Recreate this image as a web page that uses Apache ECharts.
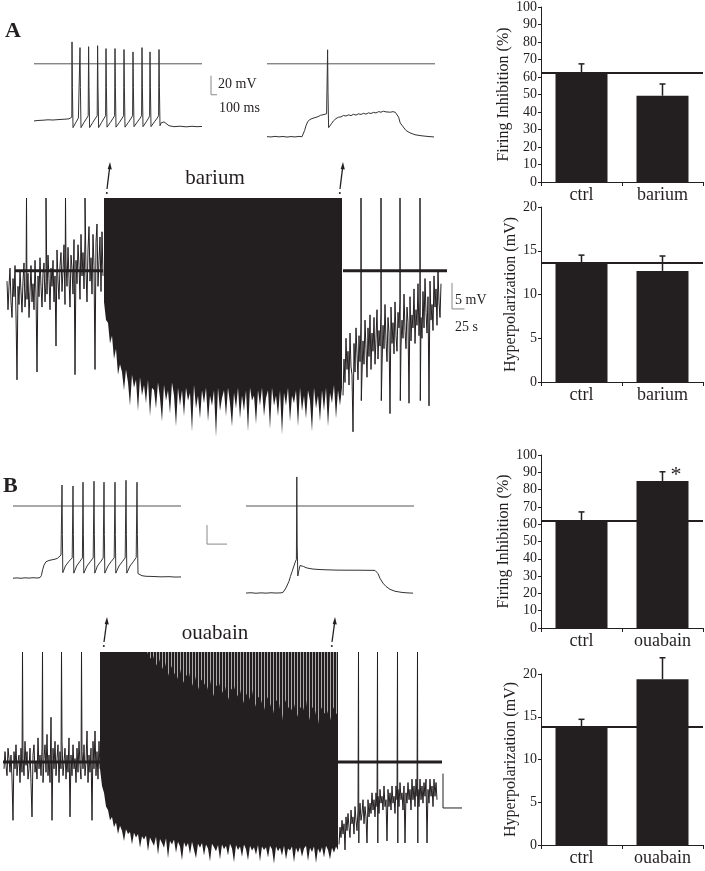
<!DOCTYPE html>
<html><head><meta charset="utf-8">
<script src="https://cdn.jsdelivr.net/npm/echarts@6/dist/echarts.min.js"></script>
<style>html,body{margin:0;padding:0;background:#fff}#c{width:705px;height:871px}</style>
</head><body><div id="c"></div>
<script>
// ---------------- DATA ----------------
// small traces: [time ms, membrane potential mV]
const traceA1 = [[0,-60],[20,-59.5],[45,-59.2],[70,-58.8],[95,-59],[120,-58.6],[150,-58.2],[175,-57.8],[189,-56],
 [190,23],[192,-25],[195,-67],[208,-62],[222,-57],[228,-55],
 [230,17],[232,-25],[235,-67],[250,-61.5],[264,-57],[271,-54.5],
 [273,18],[275,-25],[278,-67],[294,-61.5],[308,-57],[316,-54.5],
 [318,19],[320,-25],[323,-67],[338,-61.5],[351,-57],[358,-54.5],
 [360,16],[362,-25],[365,-66.5],[382,-61.5],[396,-57],[403,-54.5],
 [405,16],[407,-25],[410,-66.5],[427,-61.5],[441,-57],[448,-54.5],
 [450,15],[452,-25],[455,-66.5],[472,-61.5],[486,-57],[493,-54.5],
 [495,12.5],[497,-25],[500,-66],[517,-61],[531,-57],[538,-54.5],
 [540,17],[542,-25],[545,-66],[561,-61],[573,-57],[578,-54.5],
 [580,12.5],[582,-25],[585,-66],[602,-61],[616,-57],[623,-54.5],
 [625,15],[627,-25],[630,-65],[636,-62],[642,-60],[650,-61],[660,-63],[675,-65],[700,-66],[730,-65.5],[760,-66.2],[790,-65.6],[815,-66],[840,-65.8]];
const traceA2 = [[0,-76.5],[20,-76.8],[40,-76.2],[60,-76.7],[80,-76.3],[100,-76.9],[120,-76.4],[140,-76.8],[160,-76.2],[175,-76.6],
 [182,-75],[188,-70],[195,-65],[203,-61],[212,-58.8],[225,-57.5],[240,-56.5],[255,-55.5],[268,-54],[280,-53.5],[290,-52.5],[298,-52.5],[302,-51.5],
 [303,14.7],[305,-30],[308,-67],[314,-65.5],[322,-63],[332,-60],[345,-57.5],[358,-56],[370,-55.8],[382,-54.2],[395,-54.8],[408,-53.6],[420,-54.4],
 [432,-53],[445,-53.8],[458,-52.5],[470,-53.2],[482,-52],[495,-52.8],[508,-51.5],[520,-52.2],[532,-51],[545,-51.6],[558,-50.2],[570,-50.8],
 [582,-49.8],[595,-50.5],[605,-49.6],[618,-50.8],[630,-50.2],[642,-51],[652,-51.5],[658,-56],[666,-62],[680,-66],[695,-70],[715,-72.5],
 [740,-74.5],[770,-75.5],[800,-76.2],[835,-76.8]];
const traceB1 = [[0,-75.8],[20,-75.5],[40,-75.9],[60,-75.4],[80,-75.7],[100,-75.3],[120,-75.6],[135,-75.2],[142,-73],[148,-67],[155,-62],[165,-58.5],
 [180,-57.2],[195,-56.5],[210,-55.8],[222,-55],[232,-53.5],[240,-51.5],[244,-50],
 [245,22],[247,-30],[249,-70],[262,-63],[280,-58],[296,-54.5],
 [300,21],[302,-30],[304,-70.5],[318,-63],[335,-58],[347,-54.5],
 [350,25],[352,-30],[354,-70.5],[370,-63],[388,-58],[401,-54.5],
 [405,26],[407,-30],[409,-70.5],[422,-63],[440,-58],[451,-54.5],
 [455,25],[457,-30],[459,-70.5],[475,-63],[492,-58],[506,-54.5],
 [510,25],[512,-30],[514,-70.5],[530,-63],[548,-58],[561,-54.5],
 [565,27],[567,-30],[569,-70.5],[585,-63],[603,-58],[616,-54],
 [620,25],[622,-30],[625,-71],[632,-72.5],[645,-73.2],[665,-73.8],[700,-74],[740,-74.4],[780,-74.2],[810,-74.6],[840,-74.5]];
const traceB2 = [[0,-91.4],[25,-91.1],[50,-91.6],[75,-91.2],[100,-91.5],[125,-91.1],[150,-91.4],[175,-91.2],[186,-90.5],[200,-86],[215,-79],
 [222,-74],[230,-69],[238,-64],[246,-59],[252,-56],[254,30.5],[256,-40],[259,-73.5],[264,-68],[270,-62.5],[278,-62],[288,-63.5],[300,-64.8],
 [315,-65.5],[335,-66.2],[360,-66.6],[400,-67],[450,-67.3],[500,-67.4],[550,-67.4],[600,-67.5],[645,-67.6],[653,-68],[660,-71],[670,-76],
 [685,-81],[700,-84.5],[720,-87.5],[745,-89.5],[775,-90.6],[805,-91.2],[835,-91.5]];
const zeroLineSmall = [[0,0],[840,0]];

// long recordings: time s, potential mV relative to control level
const longA_preStart = 4, longA_preStep = 2;
const longA_pre = [-2,-7.5,-3,0.5,-6,-9,-1.5,-5,1,-8.5,
 -21,-3,-6.5,0,-4,-8,-2,1.5,-7,-3.5,
 -5.5,-0.5,-9,-4,1,-6,-2.5,-7.5,2,-4.5,
 -19.5,-1,-5,2.5,-3,-7,-0.5,1.5,-6,-2,
 -4.5,3,-1.5,-7.5,0.5,-3,2,-6,-1,-14.5,
 4,-2,-5.5,1,3.5,-4,0,5,-6.5,1.5,
 -3,4.5,-1.5,-7,3,0.5,-4.5,6,-20,2,
 -2.5,5,1,-5.5,7,-1,3.5,-3.5,6.5,0,
 -6,4,8.5,-2,2.5,-4.5,7,1,-19,5.5,
 9,-3,2,6.5,-4,7.5,-1];
const longA_spikesPre = [43,82,121,160];
const longA_blockStart = 198, longA_blockEnd = 674, longA_blockStep = 4;
const longA_blockBottom = [-6,-9.5,-10,-14,-12.5,-17,-15,-20,-18,-19.5,
 -23,-19,-21.5,-26,-20,-22.5,-21,-27,-20.5,-24,
 -22,-25.5,-21,-28,-22.5,-23,-26.5,-21.5,-24.5,-29,
 -22,-25,-23,-27.5,-21.5,-24,-30,-22.5,-26,-23,
 -28,-22.5,-25,-23.5,-31,-22,-26.5,-24,-28.5,-23,
 -25.5,-22.5,-29,-24,-26,-23,-32,-22.5,-27,-24.5,
 -23,-28,-22.5,-25.5,-30,-23.5,-26.5,-22.5,-28.5,-24,
 -27,-23,-31,-22.5,-25,-24,-29.5,-23,-26,-22.5,
 -28,-24.5,-23,-30.5,-22.5,-26,-24,-28,-23,-31.5,
 -23.5,-26,-22.5,-29,-24,-25.5,-23,-30,-22.5,-27,
 -24,-28.5,-23,-25,-31,-22.5,-26.5,-24,-29,-23,
 -27,-22.5,-30,-23.5,-25.5,-22,-28.5,-23,-26,-22.5];
const longA_postStart = 676, longA_postStep = 2;
const longA_post = [-24,-17,-21.5,-13,-19,-15.5,-22,-12,-18.5,-20,
 -31,-14,-19.5,-11,-16,-21,-12.5,-17.5,-10,-20,
 -13.5,-18,-9.5,-15,-20.5,-11,-16.5,-8.5,-19,-12,
 -15.5,-9,-18,-13,-7.5,-17,-11.5,-14.5,-8,-18.5,
 -10.5,-15,-6.5,-13.5,-17.5,-9,-12,-27.5,-7,-14,
 -10,-16,-6,-12.5,-15.5,-8,-11,-5.5,-14.5,-9.5,
 -13,-4.5,-11.5,-15,-7,-10,-25.5,-5,-13.5,-8.5,
 -11,-3.5,-14,-7.5,-10.5,-2.5,-12.5,-6,-9,-13,
 -4,-11,-1.5,-8,-12,-5,-26,-2,-9.5,-6.5,
 -11.5,-1,-7,-3.5,-10.5,0,-6,-9,-2.5];
const longA_spikesPost = [712,752,790,830];
const longA_spikeTrough = -25;
const longA_top = 14;
const longA_refPre = [[20,0],[196,0]], longA_refPost = [[676,0],[884,0]];

const longB_preStart = 2, longB_preStep = 2;
const longB_pre = [-1,1.5,-0.5,-2,2,0.5,-1.5,1,-2.5,-8.5,
 1.5,-1,2.5,-2,0,1,-3,2,-1.5,0.5,
 -2,3,-0.5,1.5,-2.5,-1,2,-3,-8,1,
 2.5,-1.5,0,-2.5,3.5,-1,1,-2,2,-3,
 0.5,2.5,-1.5,4,-2,1,-3,6.5,-8.5,2,
 -1,3,-2,0.5,2.5,-3,1.5,-1,3,-2,
 0,2,-2.5,1,-1.5,3.5,-8,1,-2,2.5,
 -1,0.5,-3,2,-1.5,3,-0.5,-2.5,1.5,-1,
 2.5,-2,0,4.5,-3,1,-1.5,2,-8.5,3,
 -1,4.5,-2,1.5,-2.5,3,-1];
const longB_spikesPre = [39,79,117,157];
const longB_blockStart = 194, longB_blockEnd = 670, longB_blockStep = 4;
const longB_blockBottom = [-1,-3.5,-4.5,-6.5,-7,-8.5,-8,-9.5,-8.8,-10.5,
 -9.3,-10,-11.5,-9.8,-10.5,-10.2,-12,-10.3,-11,-10.5,
 -12.5,-10.8,-11.3,-10.7,-13,-11,-11.6,-12.2,-10.9,-13.5,
 -11.2,-11.8,-12.5,-11.1,-14,-11.5,-12,-11.3,-13.2,-11.6,
 -12.3,-14.3,-11.7,-12.4,-11.8,-13.4,-11.6,-12.8,-14,-11.9,
 -12.5,-11.8,-13.6,-12,-12.6,-14.5,-11.9,-12.4,-13,-12.1,
 -14.2,-12,-12.7,-12.2,-13.6,-11.9,-12.6,-14.6,-12.1,-12.8,
 -12.3,-13.8,-12,-12.7,-14.3,-12.2,-12.9,-12.4,-13.5,-12.1,
 -14.5,-12.3,-12.8,-12.4,-13.9,-12.2,-12.7,-14.8,-12.3,-13,
 -12.5,-13.6,-12.2,-14.2,-12.6,-12.9,-12.3,-14.6,-12.5,-13.2,
 -12.4,-13.8,-12.6,-12.2,-14.4,-12.5,-13.1,-12.3,-14.7,-12.6,
 -13.3,-12.4,-13.9,-12.2,-12.8,-14.2,-12.5,-13.2,-12.3,-12.8];
const longB_fadeStart = 288, longB_fadeStep = 6;   // lower reach of the failing spikes
const longB_fade = [16,15,15.5,14,15,13.5,14.5,12.5,14,13,
 12,13.5,11.5,12.5,13,11,12.5,10.5,12,11.5,
 10.5,12,9.5,11,11.5,10,11,9,10.5,11,
 9.5,10.5,8.5,10,9,10.5,8,9.5,9,7.5,
 9.5,8.5,7,9,8.5,6,9,8,7.5,8.5,
 6.5,8,7.5,9,6,8,7.5,5.5,8,7,
 7.5,6,8,7];
const longB_postStart = 672, longB_postStep = 2;
const longB_post = [-12,-9.5,-11,-8.5,-10.5,-9,-12.8,-8,-10,-7.5,
 -9.5,-11,-7,-9,-8,-10.5,-6.5,-8.5,-10,-7,
 -9,-6,-8.5,-7.5,-5.5,-9,-6.5,-8,-11.8,-5.5,
 -8,-6,-7.5,-4.5,-7,-5.5,-8,-4.5,-6.5,-5,
 -7.5,-4,-6,-5,-7,-3.5,-6.5,-5.5,-11.5,-4,
 -6.5,-4.5,-7,-3.5,-6,-5,-7.5,-3.5,-5.5,-4,
 -6.5,-3,-5.5,-4.5,-7,-3.5,-11.8,-4.5,-6,-3,
 -5.5,-4,-7,-2.5,-5.5,-3.5,-6.5,-2.5,-5,-4,
 -6.5,-2.5,-5.5,-3.5,-6,-3,-5,-2.5,-11.8,-4,
 -6,-2.5,-5,-3.5,-6.5,-2.5,-5,-3,-5.5];
const longB_spikesPost = [711,749,789,829];
const longB_spikeTrough = -11.8;
const longB_top = 16;
const longB_refPre = [[0,0],[194,0]], longB_refPost = [[670,0],[878,0]];

// scale bars (data units of their panels)
const scaleSmallA = [[885,-12.5],[885,-32.5],[915,-32.5]];
const scaleLongA = [[894,-2.35],[894,-7.35],[919,-7.35]];
const scaleSmallB = [[970,-20],[970,-40],[1070,-40]];
const scaleLongB = [[880,-1.7],[880,-6.7],[918,-6.7]];

// bar charts
const catA = ['ctrl','barium'];
const catB = ['ctrl','ouabain'];
const firingA = [62, 49.3], firingAErr = [5.5, 6.7], firingARef = 62.2;
const hyperA = [13.6, 12.7], hyperAErr = [0.9, 1.7], hyperARef = 13.6;
const firingB = [61.8, 85], firingBErr = [5.3, 5.3], firingBRef = 61.8;
const hyperB = [13.9, 19.4], hyperBErr = [0.8, 2.5], hyperBRef = 13.85;
const ticksFiring = {min:0, max:100, interval:10};
const ticksHyper = {min:0, max:20, interval:5};

// ---------------- CHART ----------------
const K = '#231f20';
const SERIF = '"Liberation Serif","Times New Roman",serif';

function regular(start, step, vals){ return vals.map((v,i)=>[start+i*step, v]); }
function withSpikes(pts, spikes, top, trough){
  const out = pts.slice();
  spikes.forEach(t=>{ out.push([t, top]); if (trough!=null) out.push([t+0.6, trough]); });
  out.sort((a,b)=>a[0]-b[0]);
  return out;
}
function line(idx, data, color, width, z){
  return {type:'line', xAxisIndex:idx, yAxisIndex:idx, data, showSymbol:false, symbol:'none',
    lineStyle:{color, width}, silent:true, animation:false, z:z||2, clip:true};
}
function blockPoly(idx, start, end, top, bStart, bStep, bottom, fill, z){
  return {type:'custom', xAxisIndex:idx, yAxisIndex:idx, data:[[start, top]], silent:true, z:z||3,
    renderItem:(p, api)=>{
      const pts=[api.coord([start, top]), api.coord([end, top])];
      const lastT = bStart+(bottom.length-1)*bStep;
      if (lastT < end) pts.push(api.coord([end, bottom[bottom.length-1]]));
      for (let i=bottom.length-1;i>=0;i--) pts.push(api.coord([bStart+i*bStep, bottom[i]]));
      return {type:'polygon', shape:{points:pts}, style:{fill}};
    }};
}
function errSeries(idx, means, errs){
  return {type:'custom', xAxisIndex:idx, yAxisIndex:idx, data:means.map((m,i)=>[i,m,errs[i]]), z:4, silent:true,
    renderItem:(p, api)=>{
      const i=api.value(0), m=api.value(1), e=api.value(2);
      const a=api.coord([i,m]), b=api.coord([i,m+e]);
      return {type:'group', children:[
        {type:'line', shape:{x1:a[0],y1:a[1],x2:b[0],y2:b[1]}, style:{stroke:K, lineWidth:1.5}},
        {type:'line', shape:{x1:b[0]-3,y1:b[1],x2:b[0]+3,y2:b[1]}, style:{stroke:K, lineWidth:1.5}}]};
    }};
}
function barSeries(idx, vals, ref){
  return {type:'bar', xAxisIndex:idx, yAxisIndex:idx, data:vals, barWidth:52, itemStyle:{color:K}, silent:true, z:2,
    markLine:{symbol:['none','none'], silent:true, animation:false, label:{show:false},
      lineStyle:{color:K, width:2, type:'solid'}, data:[{yAxis:ref}]}};
}

const pat = document.createElement('canvas'); pat.width=3; pat.height=4;
const pg = pat.getContext('2d'); pg.fillStyle=K; pg.fillRect(0,0,3,4); pg.fillStyle='#a9a9a9'; pg.fillRect(0,0,1,4);

const grids = [
  {left:34, top:40, width:184, height:100},
  {left:267, top:40, width:168, height:100},
  {left:5, top:198, width:465, height:239},
  {left:13, top:476, width:216, height:120},
  {left:246, top:476, width:168, height:120},
  {left:3, top:652, width:465, height:213},
  {left:541, top:7, width:162, height:175},
  {left:541, top:207, width:162, height:175},
  {left:541, top:455, width:162, height:173},
  {left:541, top:674, width:162, height:171}
].map(g=>Object.assign({containLabel:false, outerBoundsMode:'none'}, g));

const hidden = (min,max)=>({type:'value', min, max, show:false, splitLine:{show:false}});
const xAxes = [hidden(0,920), hidden(0,840), hidden(0,930), hidden(0,1080), hidden(0,840), hidden(0,930)];
const yAxes = [hidden(-80,25), hidden(-80,25), hidden(-32,14), hidden(-94.5,31.5), hidden(-94.5,31.5), hidden(-15,16)];
xAxes.forEach((a,i)=>a.gridIndex=i); yAxes.forEach((a,i)=>a.gridIndex=i);

function catAxis(i, cats){
  return {type:'category', gridIndex:i, data:cats, boundaryGap:true,
    axisLine:{show:true, lineStyle:{color:K, width:1}},
    axisTick:{show:true, length:4, alignWithLabel:false, lineStyle:{color:K}},
    axisLabel:{color:K, fontSize:18, fontFamily:SERIF, margin:4, interval:0}, splitLine:{show:false}};
}
function valAxis(i, t, name, gap){
  return {type:'value', gridIndex:i, min:t.min, max:t.max, interval:t.interval,
    name, nameLocation:'middle', nameGap:gap, nameRotate:90,
    nameTextStyle:{color:K, fontSize:16, fontFamily:SERIF},
    axisLine:{show:true, lineStyle:{color:K, width:1}},
    axisTick:{show:true, length:3, lineStyle:{color:K}},
    axisLabel:{color:K, fontSize:14, fontFamily:SERIF, margin:4, showMinLabel:true, showMaxLabel:true},
    splitLine:{show:false}};
}
xAxes.push(catAxis(6,catA), catAxis(7,catA), catAxis(8,catB), catAxis(9,catB));
yAxes.push(valAxis(6,ticksFiring,'Firing Inhibition (%)',23), valAxis(7,ticksHyper,'Hyperpolarization (mV)',19),
           valAxis(8,ticksFiring,'Firing Inhibition (%)',23), valAxis(9,ticksHyper,'Hyperpolarization (mV)',19));

const longAPre = withSpikes(regular(longA_preStart,longA_preStep,longA_pre), longA_spikesPre, longA_top, null);
const longAPost = withSpikes(regular(longA_postStart,longA_postStep,longA_post), longA_spikesPost, longA_top, longA_spikeTrough);
const longBPre = withSpikes(regular(longB_preStart,longB_preStep,longB_pre), longB_spikesPre, longB_top, null);
const longBPost = withSpikes(regular(longB_postStart,longB_postStep,longB_post), longB_spikesPost, longB_top, longB_spikeTrough);

const series = [
  line(0, zeroLineSmall, '#555', 1), line(0, traceA1, '#333', 1, 3), line(0, scaleSmallA, '#888', 1),
  line(1, zeroLineSmall, '#555', 1), line(1, traceA2, '#333', 1, 3),
  line(2, longAPre, K, 1), line(2, longAPost, K, 1),
  blockPoly(2, longA_blockStart, longA_blockEnd, longA_top, longA_blockStart, longA_blockStep, longA_blockBottom, K),
  line(2, longA_refPre, K, 3, 5), line(2, longA_refPost, K, 3, 5), line(2, scaleLongA, '#888', 1),
  line(3, zeroLineSmall, '#555', 1), line(3, traceB1, '#333', 1, 3), line(3, scaleSmallB, '#888', 1),
  line(4, zeroLineSmall, '#555', 1), line(4, traceB2, '#333', 1, 3),
  line(5, longBPre, K, 1), line(5, longBPost, K, 1),
  blockPoly(5, longB_blockStart, longB_blockEnd, longB_top, longB_blockStart, longB_blockStep, longB_blockBottom, K),
  blockPoly(5, longB_fadeStart, longB_blockEnd, longB_top, longB_fadeStart, longB_fadeStep, longB_fade, {image:pat, repeat:'repeat'}, 4),
  line(5, longB_refPre, K, 3, 5), line(5, longB_refPost, K, 3, 5), line(5, scaleLongB, K, 1),
  barSeries(6, firingA, firingARef), errSeries(6, firingA, firingAErr),
  barSeries(7, hyperA, hyperARef), errSeries(7, hyperA, hyperAErr),
  barSeries(8, firingB, firingBRef), errSeries(8, firingB, firingBErr),
  barSeries(9, hyperB, hyperBRef), errSeries(9, hyperB, hyperBErr)
];

function txt(x, y, text, size, opt){
  return {type:'text', x, y, silent:true, z:100,
    style:{text, fill:K, font:(opt&&opt.bold?'bold ':'')+size+'px '+SERIF,
      align:(opt&&opt.align)||'left', verticalAlign:'middle'}};
}
function arrow(xb, yb, xt, yt){
  return [
    {type:'circle', shape:{cx:xb-0.2, cy:yb+4, r:1}, style:{fill:K}, silent:true},
    {type:'line', shape:{x1:xb, y1:yb, x2:xt-0.3, y2:yt+5}, style:{stroke:K, lineWidth:1.3}, silent:true},
    {type:'polygon', shape:{points:[[xt,yt],[xt-2.3,yt+7],[xt+1.8,yt+7.4]]}, style:{fill:K}, silent:true}
  ];
}
const graphic = [
  txt(5, 31, 'A', 22, {bold:true}), txt(3, 486, 'B', 22, {bold:true}),
  txt(218, 84, '20 mV', 14), txt(219, 108, '100 ms', 14),
  txt(455, 300, '5 mV', 14), txt(455, 327, '25 s', 14),
  txt(215, 178, 'barium', 21, {align:'center'}), txt(215, 633, 'ouabain', 21, {align:'center'}),
  txt(676, 475, '*', 22, {align:'center'})
].concat(arrow(107, 189, 110, 162), arrow(340, 189, 343, 162), arrow(104, 642, 107, 617), arrow(332, 642, 335, 617));

const chart = echarts.init(document.getElementById('c'), null, {renderer:'canvas', width:705, height:871});
chart.setOption({
  animation:false, backgroundColor:'#fff',
  textStyle:{fontFamily:SERIF, color:K},
  grid:grids, xAxis:xAxes, yAxis:yAxes, series, graphic
});
</script></body></html>
